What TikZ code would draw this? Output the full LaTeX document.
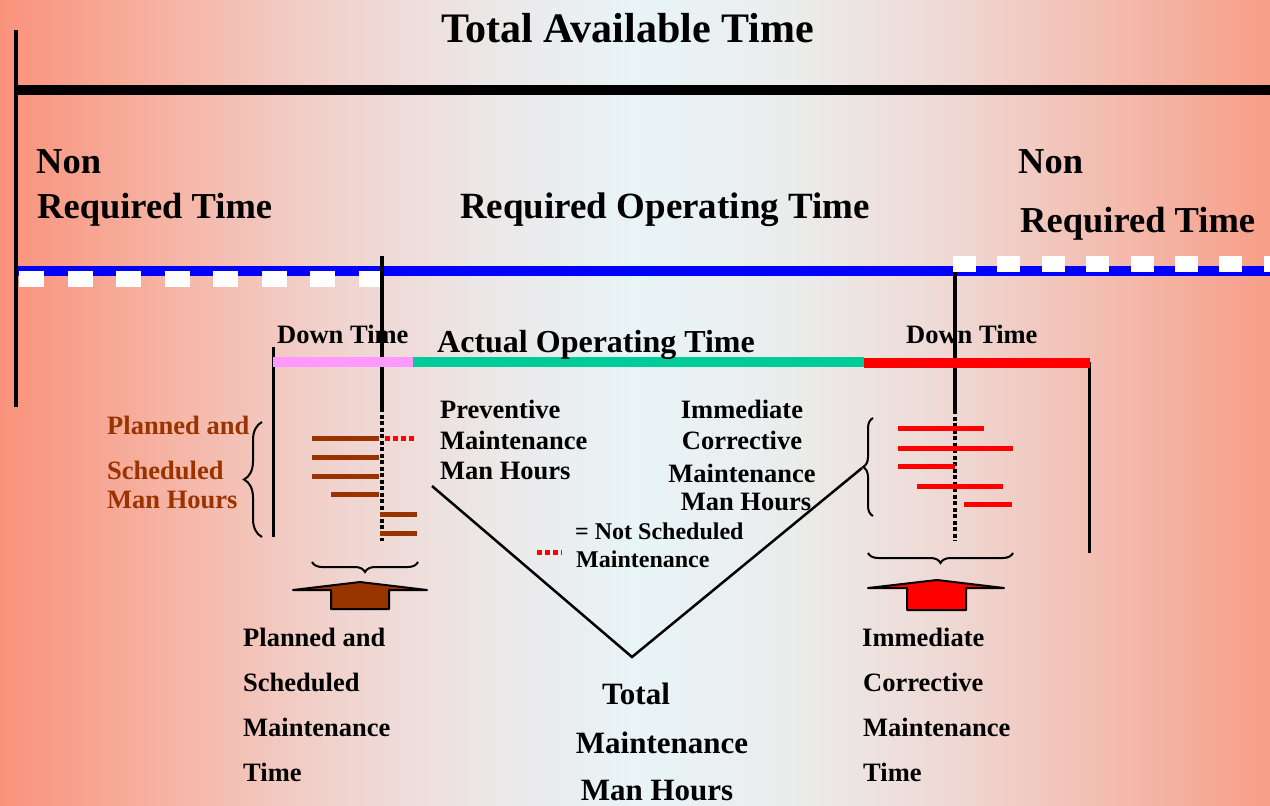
\documentclass[tikz,border=0pt]{standalone}
\usepackage{fontspec}
\setmainfont{Liberation Serif}
\usetikzlibrary{decorations.pathreplacing}

\definecolor{rustbrown}{HTML}{993300}
\definecolor{pinkbar}{HTML}{FF99FF}
\definecolor{greenbar}{HTML}{00CC99}
\definecolor{bluebar}{HTML}{0000FF}
\definecolor{redbar}{HTML}{FF0000}

% salmon-to-pale-cyan horizontal background
\pgfdeclarehorizontalshading{paper}{100bp}{
  color(0bp)=(rgb,255:red,249;green,146;blue,123);
  color(25bp)=(rgb,255:red,249;green,146;blue,123);
  color(31.25bp)=(rgb,255:red,246;green,178;blue,162);
  color(37.5bp)=(rgb,255:red,241;green,208;blue,202);
  color(43.75bp)=(rgb,255:red,236;green,230;blue,230);
  color(50bp)=(rgb,255:red,232;green,244;blue,246);
  color(56.25bp)=(rgb,255:red,235;green,236;blue,236);
  color(62.5bp)=(rgb,255:red,239;green,216;blue,211);
  color(68.75bp)=(rgb,255:red,243;green,188;blue,175);
  color(75bp)=(rgb,255:red,247;green,158;blue,136);
  color(100bp)=(rgb,255:red,247;green,158;blue,136)}

\tikzset{
  lbl/.style={anchor=base west, inner sep=0pt, font=\bfseries\fontsize{26.5}{30}\selectfont},
  big/.style={anchor=base west, inner sep=0pt, font=\bfseries\fontsize{36.5}{40}\selectfont},
  dotrule/.style={line width=4pt, dash pattern=on 4pt off 2.5pt},
  brownbar/.style={rustbrown, line width=5pt},
  redline/.style={redbar, line width=5pt},
  reddots/.style={redbar, line width=4.5pt, dash pattern=on 4.5pt off 3.5pt},
  curly/.style={line width=2pt, decorate},
  blockarrow/.style={draw=black, line width=2pt, line join=round}
}

\begin{document}
\begin{tikzpicture}[x=1pt, y=-1pt]
\useasboundingbox (0,0) rectangle (1270,806);
% background
\shade[shading=paper] (0,0) rectangle (1270,806);

% total available time
\node[anchor=base west, inner sep=0pt, font=\bfseries\fontsize{42}{44}\selectfont] (title) at (441,42) {Total Available Time};
\draw[line width=3.5pt] (16,30) coordinate (lt) -- (16,407) coordinate (lb);
\draw[line width=10pt] (18,90) coordinate (tl) -- (1270,90) coordinate (tr);

% required time line
\draw[bluebar, line width=10pt] (18,271) coordinate (bl) -- (1270,271) coordinate (br);
\draw[white, line width=16pt, dash pattern=on 25pt off 23.5pt] (19,279) -- (380,279);
\draw[white, line width=16pt, dash pattern=on 23pt off 21.4pt] (953,264) -- (1270,264);

\node[big] (nonL) at (36,173) {Non};
\node[big] (reqL) at (37,218) {Required Time};
\node[big] (nonR) at (1018,173) {Non};
\node[big] (reqR) at (1020,232) {Required Time};
\node[anchor=base west, inner sep=0pt, font=\bfseries\fontsize{37}{40}\selectfont] (rot) at (460,218) {Required Operating Time};

% boundaries of required operating time
\draw[line width=4pt] (382,256) coordinate (sL) -- (382,408) coordinate (dL);
\draw[dotrule] (dL) -- (382,541);
\draw[line width=4pt] (955,272) coordinate (sR) -- (955,410) coordinate (dR);
\draw[dotrule] (dR) -- (955,541);

% down time / actual operating time bar
\draw[line width=3pt] (273,347) -- (273,537);
\draw[line width=3pt] (1089,362) -- (1089,553);
\draw[pinkbar, line width=10pt] (273,362) -- (413,362);
\draw[greenbar, line width=10pt] (413,362) -- (864,362);
\draw[redbar, line width=10pt] (864,363) -- (1090,363);
\node[lbl] (dtL) at (277,343) {Down Time};
\node[lbl] (dtR) at (906,343) {Down Time};
\node[anchor=base west, inner sep=0pt, font=\bfseries\fontsize{32}{36}\selectfont] (aot) at (437,352) {Actual Operating Time};

% planned and scheduled man hours
\draw[brownbar] (312,438.5) -- (379,438.5);
\draw[reddots] (385,438.5) -- (414,438.5);
\draw[brownbar] (312,457.5) -- (379,457.5);
\draw[brownbar] (312,476.5) -- (379,476.5);
\draw[brownbar] (331,494.5) -- (379,494.5);
\draw[brownbar] (380,514) -- (417,514);
\draw[brownbar] (380,533.5) -- (417,533.5);

% immediate corrective man hours
\draw[redline] (898,428.5) -- (984,428.5);
\draw[redline] (898,448) -- (1013,448);
\draw[redline] (898,466.5) -- (955,466.5);
\draw[redline] (917,486) -- (1003,486);
\draw[redline] (964,504.5) -- (1012,504.5);

% braces
\draw[curly, decoration={brace, amplitude=18pt}] (262,537) -- (262,422);
\draw[curly, decoration={brace, amplitude=10pt}] (873,516) -- (873,418);
\draw[curly, decoration={brace, amplitude=10pt}] (418,562) -- (312,562);
\draw[curly, decoration={brace, amplitude=10pt}] (1013,553) -- (868,553);

\node[lbl, rustbrown] (psm1) at (107,434) {Planned and};
\node[lbl, rustbrown] (psm2) at (107,479) {Scheduled};
\node[lbl, rustbrown] (psm3) at (107,508) {Man Hours};

% block arrows
\draw[blockarrow, fill=rustbrown] (293,590) -- (360,582) -- (427,590) -- (389,590) -- (389,609) -- (331,609) -- (331,590) -- cycle;
\draw[blockarrow, fill=redbar] (868,588) -- (937,580) -- (1004,588) -- (966,588) -- (966,610) -- (907,610) -- (907,588) -- cycle;

% total maintenance man hours
\coordinate (vL) at (432,486);
\coordinate (vB) at (632,657);
\coordinate (vR) at (862,468);
\draw[line width=2.5pt] (vL) -- (vB) -- (vR);

\node[lbl] (pm1) at (440,418) {Preventive};
\node[lbl] (pm2) at (440,449) {Maintenance};
\node[lbl] (pm3) at (440,479) {Man Hours};

\node[anchor=base, inner sep=0pt, font=\bfseries\fontsize{26.5}{30}\selectfont] (ic1) at (742,418) {Immediate};
\node[anchor=base, inner sep=0pt, font=\bfseries\fontsize{26.5}{30}\selectfont] (ic2) at (742,449) {Corrective};
\node[anchor=base, inner sep=0pt, font=\bfseries\fontsize{26.5}{30}\selectfont] (ic3) at (742,482) {Maintenance};
\node[anchor=base, inner sep=0pt, font=\bfseries\fontsize{26.5}{30}\selectfont] (ic4) at (746,510) {Man Hours};

% legend
\draw[reddots] (537,552.5) -- (562,552.5);
\node[anchor=base west, inner sep=0pt, font=\bfseries\fontsize{24}{28}\selectfont] (lg1) at (575,539) {= Not Scheduled};
\node[anchor=base west, inner sep=0pt, font=\bfseries\fontsize{24}{28}\selectfont] (lg2) at (576,567) {Maintenance};

% bottom captions
\node[lbl] (ps1) at (243,646) {Planned and};
\node[lbl] (ps2) at (243,691) {Scheduled};
\node[lbl] (ps3) at (243,736) {Maintenance};
\node[lbl] (ps4) at (243,781) {Time};

\node[lbl] (ict1) at (862,646) {Immediate};
\node[lbl] (ict2) at (863,691) {Corrective};
\node[lbl] (ict3) at (863,736) {Maintenance};
\node[lbl] (ict4) at (863,781) {Time};

\node[anchor=base, inner sep=0pt, font=\bfseries\fontsize{31}{34}\selectfont] (tm1) at (636,704) {Total};
\node[anchor=base, inner sep=0pt, font=\bfseries\fontsize{31}{34}\selectfont] (tm2) at (662,753) {Maintenance};
\node[anchor=base, inner sep=0pt, font=\bfseries\fontsize{31}{34}\selectfont] (tm3) at (657,800) {Man Hours};
\end{tikzpicture}
\end{document}
